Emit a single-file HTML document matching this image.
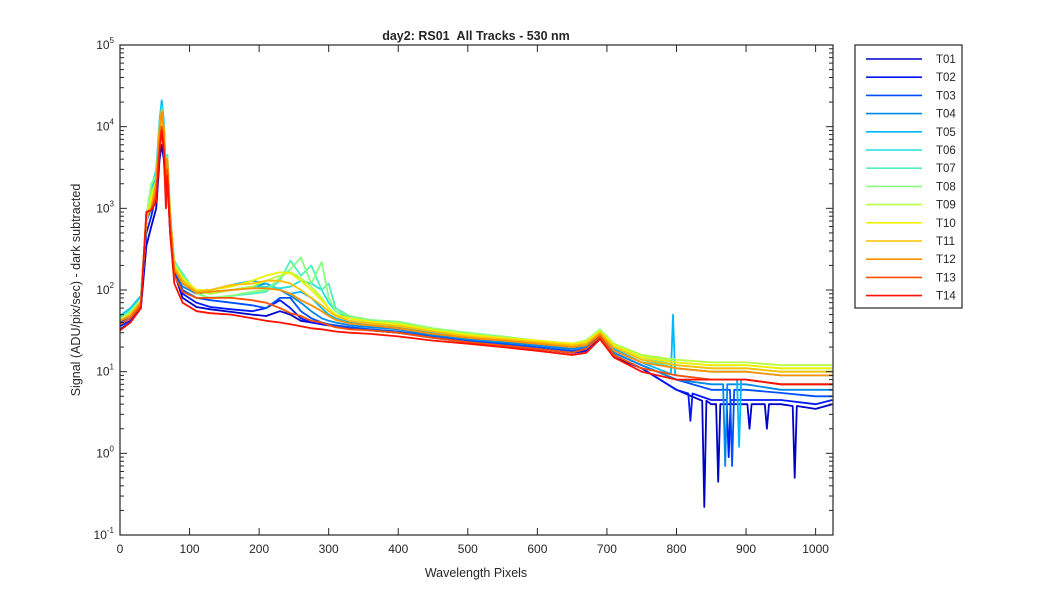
<!DOCTYPE html>
<html><head><meta charset="utf-8"><style>
body{margin:0;background:#fff}
svg text{font-family:"Liberation Sans",Arial,sans-serif;fill:#262626}
</style></head><body>
<svg id="c" width="1050" height="600" xmlns="http://www.w3.org/2000/svg">
<rect width="1050" height="600" fill="#fff"/>
<text x="476" y="40" font-size="12.5" font-weight="bold" text-anchor="middle">day2: RS01 &#160;All Tracks - 530 nm</text>
<text x="476" y="577" font-size="12.5" text-anchor="middle">Wavelength Pixels</text>
<text transform="translate(80,290) rotate(-90)" font-size="12.5" text-anchor="middle">Signal (ADU/pix/sec) - dark subtracted</text>
<g id="series"></g>
<g id="axes"></g>
<g id="legend"></g>
</svg>
<script>
const pix=[0,15,30,38,45,52,57,60,63,66,68,72,78,90,110,130,160,190,210,230,245,260,275,290,300,310,330,360,400,450,500,550,600,650,670,690,710,750,800,850,900,950,1000,1024];
const trackNames=["T01","T02","T03","T04","T05","T06","T07","T08","T09","T10","T11","T12","T13","T14"];
const trackColors=["#0000c8","#0018ff","#0050ff","#0088e8","#00b8ff","#20e0e0","#50f0b8","#88ff80","#b8ff40","#f0f000","#ffc000","#ff9000","#ff5000","#ff1000"];
const T01=[33,40,60,350,600,1000,4000,6000,4000,1500,2500,500,160,80,62,58,54,50,48,55,50,42,40,38,37,36,34,32,30,26,23,21,19,17,18,26,15,11,6,4,4,4,3.5,4];
const T02=[36,42,62,500,800,1500,6000,9000,6000,1800,3000,600,170,90,70,62,58,55,60,75,60,45,40,38,37,36,34,32,30,27,24,21,19,17,18,27,16,11,6,4.5,4.5,4.5,4,4.5];
const T03=[40,48,70,700,1000,2000,8000,13000,8000,2000,3500,700,180,100,80,75,70,65,60,80,80,55,45,40,38,37,35,33,31,27,24,22,20,18,19,28,17,12,8,6,6,5.5,5,5];
const T04=[45,55,80,800,1200,2500,10000,18000,10000,2500,4000,800,200,110,90,95,100,110,120,100,85,70,55,45,42,40,37,35,33,28,25,23,21,19,20,30,17,12,8,7,7,6,6,6];
const T05=[48,60,85,800,1500,3000,12000,21000,12000,3000,4500,900,220,130,95,100,115,130,120,100,90,95,80,60,50,45,40,37,35,30,27,24,22,20,21,32,19,13,9,8,8,7,7,7];
const T06=[46,58,80,800,1800,3000,11000,18000,11000,3000,4500,900,230,150,95,90,100,110,110,105,110,130,120,100,70,55,45,40,38,31,28,25,23,21,22,33,20,14,11,10,10,9,9,9];
const T07=[45,55,78,800,2000,2500,10000,15000,10000,3000,4500,900,220,160,90,80,85,90,95,130,230,150,200,100,120,60,48,42,40,33,29,26,24,21,23,32,21,15,12,11,11,10,10,10];
const T08=[44,55,76,800,2000,2500,9000,14000,9000,2800,4000,850,210,150,90,80,85,95,100,140,180,250,120,220,80,55,48,43,41,34,30,27,24,22,24,33,22,16,13,12,12,11,11,11];
const T09=[43,52,74,700,1500,2200,8000,13000,8000,2500,3800,800,200,140,95,90,100,110,130,150,165,140,110,80,60,50,45,41,39,33,29,26,24,22,24,32,22,16,14,13,13,12,12,12];
const T10=[43,50,72,700,1300,2200,9000,14000,9000,2600,4000,800,200,140,100,100,110,130,150,165,160,130,100,75,60,50,45,41,38,32,28,26,24,22,23,31,21,15,13,12,12,11,11,11];
const T11=[42,50,72,800,1000,2200,10000,16000,10000,2800,4200,850,190,130,95,100,115,120,130,130,120,100,80,65,55,48,42,39,36,31,27,25,23,21,22,30,20,14,12,11,11,10,10,10];
const T12=[42,48,70,900,1000,2000,9000,15000,9000,2600,4000,800,180,120,92,95,100,105,105,100,90,75,65,55,48,43,39,37,34,29,26,24,22,20,21,29,18,13,11,10,10,9,9,9];
const T13=[38,45,65,900,950,1500,6000,10000,6000,2000,3000,600,150,95,80,80,80,75,70,60,52,48,42,40,37,35,33,32,30,26,23,21,19,17,19,27,16,11,9,8,8,7,7,7];
const T14=[32,40,60,900,950,1200,5000,9000,5000,1000,2500,500,120,70,55,52,50,45,42,40,38,36,34,33,32,31,30,29,27,24,22,20,18,16,17,25,15,10,8,8,8,7,7,7];
const tracks=[T01,T02,T03,T04,T05,T06,T07,T08,T09,T10,T11,T12,T13,T14];
const spikes=[[0,840,0.22],[0,860,0.45],[0,970,0.5],[1,875,0.9],[2,880,0.7],[3,870,0.7],[4,795,50],[4,890,1.2],[0,905,2],[1,820,2.5],[0,930,2]];
const xTicks=[0,100,200,300,400,500,600,700,800,900,1000];
const yExp=[-1,0,1,2,3,4,5];

const L=120,R=833,T=45,B=535;
const xs=v=>L+v*(R-L)/1025;
const ys=v=>B-(Math.log10(v)+1)*(B-T)/6;
const NS="http://www.w3.org/2000/svg";
function mk(tag,attrs,parent){const e=document.createElementNS(NS,tag);for(const k in attrs)e.setAttribute(k,attrs[k]);parent.appendChild(e);return e;}
const gS=document.getElementById('series'),gA=document.getElementById('axes'),gL=document.getElementById('legend');

tracks.forEach((arr,i)=>{
  let pts=pix.map((p,j)=>[p,arr[j]]);
  spikes.filter(s=>s[0]===i).forEach(s=>{
    let k=pts.findIndex(q=>q[0]>s[1]);
    let a=pts[k-1],b=pts[k];const base=a[1]+(b[1]-a[1])*(s[1]-a[0])/(b[0]-a[0]);
    pts.splice(k,0,[s[1]-3,base],[s[1],s[2]],[s[1]+3,base]);
  });
  const d=pts.map((q,j)=>(j?'L':'M')+xs(q[0]).toFixed(1)+' '+ys(q[1]).toFixed(1)).join(' ');
  const p=mk('path',{d:d,fill:'none',stroke:trackColors[i],'stroke-width':'1.8','stroke-linejoin':'round'},gS);
  
  
});

const box=mk('rect',{x:L,y:T,width:R-L,height:B-T,fill:'none',stroke:'#262626','stroke-width':'1.2'},gA);


xTicks.forEach(v=>{
  const x=xs(v);
  mk('line',{x1:x,x2:x,y1:B,y2:B-7,stroke:'#262626'},gA);
  mk('line',{x1:x,x2:x,y1:T,y2:T+7,stroke:'#262626'},gA);
  const t=mk('text',{x:x,y:B+18,'font-size':'12','text-anchor':'middle'},gA);
  t.textContent=v;
  
  
});
yExp.forEach(e=>{
  const y=ys(Math.pow(10,e));
  mk('line',{x1:L,x2:L+7,y1:y,y2:y,stroke:'#262626'},gA);
  mk('line',{x1:R,x2:R-7,y1:y,y2:y,stroke:'#262626'},gA);
  if(e<5){for(let m=2;m<10;m++){const yy=ys(m*Math.pow(10,e));
    mk('line',{x1:L,x2:L+4,y1:yy,y2:yy,stroke:'#262626'},gA);
    mk('line',{x1:R,x2:R-4,y1:yy,y2:yy,stroke:'#262626'},gA);}}
  const t=mk('text',{x:L-6,y:y+4,'font-size':'12','text-anchor':'end'},gA);
  
  
  t.appendChild(document.createTextNode('10'));
  const s=mk('tspan',{dy:'-6','font-size':'8'},t);s.textContent=e;
});

const lb=mk('rect',{x:855,y:45,width:107,height:263,fill:'#fff',stroke:'#262626','stroke-width':'1.2'},gL);


trackNames.forEach((n,i)=>{
  const y=59+i*18.2;
  const g=mk('g',{},gL);
  
  
  mk('line',{x1:866,x2:922,y1:y,y2:y,stroke:trackColors[i],'stroke-width':'1.6'},g);
  const t=mk('text',{x:936,y:y+4,'font-size':'11.5'},g);t.textContent=n;
});
</script>
</body></html>
